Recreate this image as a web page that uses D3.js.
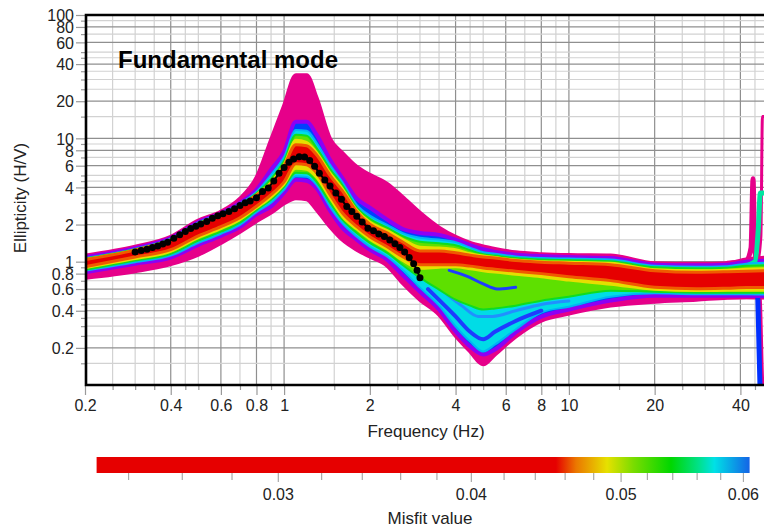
<!DOCTYPE html>
<html>
<head>
<meta charset="utf-8">
<script src="https://cdn.jsdelivr.net/npm/d3@7"></script>
<style>
  body { margin: 0; background: #fff; }
  svg { display: block; font-family: "Liberation Sans", Arial, Helvetica, sans-serif; }
</style>
</head>
<body>
<svg id="chart" width="764" height="529"></svg>
<script>
// frequency grid shared by the envelope curves (Hz)
const freq = [0.2, 0.3, 0.4, 0.5, 0.6, 0.7, 0.8, 0.9, 1.0, 1.1, 1.2, 1.3, 1.45, 1.6, 1.8, 2.0, 2.3, 2.6, 3.0, 3.5, 4.0, 4.5, 5.0, 5.5, 6.5, 8, 10, 14, 20, 28, 36, 42, 50];

// envelopes of the ellipticity curves, grouped by misfit colour (upper / lower)
const magentaUpper = [1.12, 1.32, 1.59, 2.15, 2.54, 3.24, 4.79, 9.72, 18.4, 32.5, 32.5, 21.3, 9.90, 7.63, 5.87, 5.06, 4.28, 3.36, 2.49, 1.89, 1.59, 1.42, 1.33, 1.27, 1.19, 1.15, 1.13, 1.12, 0.973, 0.963, 0.973, 1.04, 1.08];
const magentaLower = [0.74, 0.837, 0.955, 1.14, 1.42, 1.75, 2.13, 2.50, 2.97, 3.27, 3.21, 2.64, 1.92, 1.51, 1.25, 1.10, 0.929, 0.676, 0.492, 0.372, 0.251, 0.187, 0.147, 0.177, 0.247, 0.333, 0.379, 0.440, 0.474, 0.492, 0.510, 0.515, 0.510];
const blueUpper = [1.09, 1.285, 1.55, 2.09, 2.47, 3.00, 3.83, 5.56, 7.77, 13.6, 13.6, 10.7, 6.70, 4.79, 3.24, 2.74, 2.19, 1.85, 1.71, 1.65, 1.51, 1.36, 1.26, 1.20, 1.14, 1.11, 1.09, 1.07, 0.946, 0.937, 0.946, 1.00, 1.02];
const blueLower = [0.82, 0.963, 1.08, 1.37, 1.62, 1.92, 2.42, 2.81, 3.62, 4.61, 4.52, 3.94, 2.59, 1.89, 1.51, 1.25, 1.04, 0.785, 0.571, 0.409, 0.272, 0.205, 0.177, 0.194, 0.267, 0.358, 0.409, 0.483, 0.530, 0.530, 0.530, 0.530, 0.525];
const cyanUpper = [1.07, 1.27, 1.54, 2.07, 2.45, 2.95, 3.69, 5.06, 7.08, 11.7, 11.5, 9.20, 6.10, 4.44, 2.89, 2.36, 1.99, 1.71, 1.56, 1.51, 1.44, 1.30, 1.19, 1.16, 1.10, 1.07, 1.06, 1.04, 0.928, 0.911, 0.920, 0.963, 0.98];
const cyanLower = [0.845, 0.99, 1.12, 1.42, 1.68, 1.99, 2.52, 3.00, 3.83, 4.92, 4.87, 4.20, 2.78, 2.05, 1.59, 1.32, 1.10, 0.861, 0.616, 0.44, 0.298, 0.225, 0.187, 0.213, 0.282, 0.387, 0.431, 0.520, 0.555, 0.545, 0.545, 0.545, 0.540];
const greenUpper = [1.06, 1.26, 1.52, 2.05, 2.42, 2.89, 3.59, 4.70, 6.58, 10.7, 10.5, 8.38, 5.67, 4.20, 2.74, 2.23, 1.89, 1.62, 1.45, 1.41, 1.36, 1.24, 1.15, 1.12, 1.07, 1.04, 1.03, 1.01, 0.903, 0.885, 0.894, 0.928, 0.937];
const greenLower = [0.86, 1.02, 1.16, 1.48, 1.75, 2.07, 2.62, 3.18, 4.05, 5.25, 5.20, 4.44, 3.00, 2.19, 1.71, 1.42, 1.18, 0.946, 0.742, 0.593, 0.492, 0.440, 0.409, 0.417, 0.440, 0.483, 0.520, 0.582, 0.571, 0.560, 0.560, 0.560, 0.560];
const yellowUpper = [1.05, 1.25, 1.51, 2.03, 2.40, 2.86, 3.52, 4.44, 6.22, 9.72, 9.36, 7.77, 5.30, 3.97, 2.64, 2.11, 1.80, 1.54, 1.32, 1.30, 1.26, 1.17, 1.12, 1.09, 1.04, 1.01, 1.00, 0.98, 0.869, 0.853, 0.861, 0.877, 0.885];
const yellowLower = [0.885, 1.05, 1.20, 1.55, 1.84, 2.17, 2.71, 3.30, 4.20, 5.67, 5.56, 4.79, 3.24, 2.31, 1.82, 1.51, 1.25, 1.02, 0.877, 0.894, 0.902, 0.869, 0.837, 0.815, 0.785, 0.749, 0.702, 0.651, 0.593, 0.577, 0.582, 0.582, 0.582];
const redUpper = [1.04, 1.24, 1.50, 2.01, 2.38, 2.84, 3.46, 4.24, 5.99, 8.86, 8.70, 7.35, 5.01, 3.76, 2.54, 2.01, 1.71, 1.45, 1.22, 1.22, 1.18, 1.13, 1.09, 1.07, 1.02, 0.991, 0.973, 0.946, 0.845, 0.821, 0.829, 0.837, 0.845];
const redLower = [0.91, 1.09, 1.25, 1.62, 1.92, 2.27, 2.81, 3.49, 4.44, 6.22, 6.10, 5.25, 3.49, 2.49, 1.92, 1.59, 1.32, 1.10, 0.946, 0.946, 0.946, 0.920, 0.889, 0.869, 0.837, 0.800, 0.756, 0.702, 0.621, 0.604, 0.610, 0.616, 0.616];

// single curves at the right edge (high-frequency spikes) and streaks in the trough
const spikeMagAFreq = [36, 42, 43.6, 44.3, 44.9, 45.8, 50];
const spikeMagAEll = [0.97, 1.02, 1.3, 4.7, 1.3, 0.95, 0.95];
const spikeMagBFreq = [40, 46, 47.2, 47.8, 48.5];
const spikeMagBEll = [0.95, 1.0, 1.6, 15, 15];
const spikeMagCFreq = [40, 45.5, 46.8, 47.6, 48.5];
const spikeMagCEll = [0.95, 0.9, 0.5, 0.12, 0.05];
const spikeBlueFreq = [40, 45, 45.9, 46.5, 47.2];
const spikeBlueEll = [0.93, 0.85, 0.6, 0.2, 0.05];
const spikeCyanFreq = [40, 45, 46.2, 47, 50];
const spikeCyanEll = [0.9, 1.0, 1.8, 3.6, 3.6];
const streakBlueFreq = [3.8, 4.4, 5.0, 5.6, 6.5];
const streakBlueEll = [0.85, 0.76, 0.66, 0.60, 0.62];
const streakDeepFreq = [3.2, 4.0, 4.5, 5.0, 5.5, 6.5, 8];
const streakDeepEll = [0.60, 0.36, 0.27, 0.235, 0.27, 0.33, 0.40];
const streakMidFreq = [3.0, 3.6, 4.2, 4.8, 5.4, 6.5, 8, 10];
const streakMidEll = [0.80, 0.58, 0.44, 0.36, 0.36, 0.40, 0.45, 0.48];

// measured ellipticity (black dots)
const obsFreq = [0.30, 0.315, 0.33, 0.345, 0.36, 0.375, 0.39, 0.41, 0.43, 0.45, 0.47, 0.49, 0.51, 0.535, 0.56, 0.585, 0.61, 0.64, 0.67, 0.70, 0.73, 0.76, 0.80, 0.84, 0.88, 0.92, 0.96, 1.00, 1.04, 1.08, 1.13, 1.18, 1.23, 1.28, 1.33, 1.39, 1.45, 1.52, 1.59, 1.66, 1.73, 1.80, 1.88, 1.97, 2.06, 2.15, 2.25, 2.35, 2.45, 2.55, 2.65, 2.75, 2.85, 2.93, 3.0];
const obsEll = [1.20, 1.23, 1.26, 1.30, 1.34, 1.39, 1.44, 1.55, 1.65, 1.76, 1.86, 1.94, 2.02, 2.12, 2.25, 2.36, 2.45, 2.55, 2.68, 2.85, 3.0, 3.1, 3.3, 3.7, 3.95, 4.5, 5.2, 5.8, 6.4, 6.8, 7.1, 7.05, 6.6, 5.95, 5.2, 4.6, 4.1, 3.6, 3.2, 2.8, 2.55, 2.33, 2.1, 1.87, 1.78, 1.68, 1.6, 1.5, 1.40, 1.30, 1.20, 1.08, 0.96, 0.85, 0.74];

// axis labels
const xLabels = [0.2, 0.4, 0.6, 0.8, 1, 2, 4, 6, 8, 10, 20, 40];
const yLabels = [0.2, 0.4, 0.6, 0.8, 1, 2, 4, 6, 8, 10, 20, 40, 60, 80, 100];
const gridSteps = [1, 1.5, 2, 2.5, 3, 3.5, 4, 4.5, 5, 6, 7, 8, 9];

// misfit colour bar
const misfitLabels = [0.03, 0.04, 0.05, 0.06];
const barStopValues = [0.0229, 0.0454, 0.0468, 0.0490, 0.0510, 0.0539, 0.0562, 0.0575, 0.0606];
const barStopColors = ["#e60000", "#e60000", "#eb7800", "#e6e100", "#78dc00", "#00d700", "#00e18c", "#00e1e6", "#1464e6"];

const svg = d3.select("#chart");
const plotL = 86, plotT = 15, plotB = 385;

const x = d3.scaleLog().domain([0.2, 50]).range([85, 768]);
const y = d3.scaleLog().domain([0.1, 100]).range([plotB, plotT]);

const near = (a, b) => Math.abs(a - b) < 1e-6 * b;
const isIn = (list, v) => list.some(l => near(v, l));

function gridValues(lo, hi) {
    const out = [];
    [0.1, 1, 10, 100].forEach(dec => {
        gridSteps.forEach(k => {
            const v = +(k * dec).toPrecision(6);
            if (v >= lo - 1e-9 && v <= hi + 1e-9) out.push(v);
        });
    });
    return out;
}
const xGrid = gridValues(0.2, 50);
const yGrid = gridValues(0.15, 100);

svg.append("defs").append("clipPath").attr("id", "plotClip")
    .append("rect").attr("x", plotL).attr("y", plotT).attr("width", 764 - plotL + 10).attr("height", plotB - plotT);

// grid
const grid = svg.append("g").attr("clip-path", "url(#plotClip)");
grid.selectAll("line.vx").data(xGrid).enter().append("line")
    .attr("x1", d => x(d)).attr("x2", d => x(d))
    .attr("y1", plotT).attr("y2", plotB)
    .attr("stroke", d => isIn(xLabels, d) ? "#8f8f8f" : "#d2d2d2")
    .attr("stroke-width", 1.2);
grid.selectAll("line.hy").data(yGrid).enter().append("line")
    .attr("y1", d => y(d)).attr("y2", d => y(d))
    .attr("x1", plotL).attr("x2", 770)
    .attr("stroke", d => isIn(yLabels, d) ? "#8f8f8f" : "#d2d2d2")
    .attr("stroke-width", 1.2);

// envelope layers, worst misfit first so the best fits end on top
const layers = [
    { upper: magentaUpper, lower: magentaLower, fill: "#e6008a", edge: "#e6008a", w: 4 },
    { upper: blueUpper, lower: blueLower, fill: "#0040ff", edge: "#8c00f5", w: 4 },
    { upper: cyanUpper, lower: cyanLower, fill: "#00dce6", edge: "#00b4f5", w: 2 },
    { upper: greenUpper, lower: greenLower, fill: "#5ee000", edge: "#10dc20", w: 2 },
    { upper: yellowUpper, lower: yellowLower, fill: "#e6df00", edge: "#e6df00", w: 2 },
    { upper: redUpper, lower: redLower, fill: "#e60000", edge: "#f05a00", w: 3 }
];

const area = d3.area()
    .x(d => x(d.f))
    .y0(d => y(d.lo))
    .y1(d => y(d.hi))
    .curve(d3.curveMonotoneX);

const line = d3.line()
    .x(d => x(d.f))
    .y(d => y(d.v))
    .curve(d3.curveMonotoneX);

const curves = svg.append("g").attr("clip-path", "url(#plotClip)");

function drawSingle(fs, vs, color, w) {
    curves.append("path")
        .datum(fs.map((f, i) => ({ f: f, v: vs[i] })))
        .attr("d", line)
        .attr("fill", "none")
        .attr("stroke", color)
        .attr("stroke-width", w)
        .attr("stroke-linejoin", "round")
        .attr("stroke-linecap", "round");
}

layers.forEach((layer, li) => {
    if (li === 0) {
        drawSingle(spikeMagAFreq, spikeMagAEll, "#e6008a", 5);
        drawSingle(spikeMagBFreq, spikeMagBEll, "#e6008a", 3);
        drawSingle(spikeMagCFreq, spikeMagCEll, "#e6008a", 4);
    }
    if (li === 1) drawSingle(spikeBlueFreq, spikeBlueEll, "#0030ff", 5);
    if (li === 2) drawSingle(spikeCyanFreq, spikeCyanEll, "#00e6a0", 5);
    const pts = freq.map((f, i) => ({ f: f, hi: layer.upper[i], lo: layer.lower[i] }));
    curves.append("path")
        .datum(pts)
        .attr("d", area)
        .attr("fill", layer.fill)
        .attr("stroke", layer.edge)
        .attr("stroke-width", layer.w)
        .attr("stroke-linejoin", "round");
    if (li === 2) {
        drawSingle(streakDeepFreq, streakDeepEll, "#1e3cff", 4);
        drawSingle(streakMidFreq, streakMidEll, "#2090ff", 3);
    }
    if (li === 3) drawSingle(streakBlueFreq, streakBlueEll, "#1e3cff", 3);
});

// measured curve
const obs = obsFreq.map((f, i) => ({ f: f, v: obsEll[i] }));
svg.append("path")
    .datum(obs)
    .attr("d", d3.line().x(d => x(d.f)).y(d => y(d.v)))
    .attr("fill", "none")
    .attr("stroke", "#000")
    .attr("stroke-width", 2);
svg.append("g").selectAll("circle").data(obs).enter().append("circle")
    .attr("cx", d => x(d.f))
    .attr("cy", d => y(d.v))
    .attr("r", 3.5)
    .attr("fill", "#000");

// axes
const xAxis = d3.axisBottom(x).tickValues(xGrid)
    .tickFormat(d => isIn(xLabels, d) ? String(d) : "");
const gx = svg.append("g").attr("transform", `translate(0,${plotB})`).call(xAxis);
gx.select(".domain").remove();
gx.selectAll(".tick line").attr("stroke", "#9a9a9a").attr("stroke-width", 1.2)
    .attr("y2", d => isIn(xLabels, d) ? 10 : 5);
gx.selectAll(".tick text").attr("y", 26).attr("dy", null)
    .attr("font-size", 16).attr("fill", "#222").attr("font-family", "Liberation Sans, Arial, sans-serif");

const yAxis = d3.axisLeft(y).tickValues(yGrid)
    .tickFormat(d => isIn(yLabels, d) ? String(d) : "");
const gy = svg.append("g").attr("transform", `translate(${plotL},0)`).call(yAxis);
gy.select(".domain").remove();
gy.selectAll(".tick line").attr("stroke", "#9a9a9a").attr("stroke-width", 1.2)
    .attr("x2", d => isIn(yLabels, d) ? -10 : -5);
gy.selectAll(".tick text").attr("x", -12).attr("dy", "0.36em")
    .attr("font-size", 16).attr("fill", "#222").attr("font-family", "Liberation Sans, Arial, sans-serif");

// frame
svg.append("path")
    .attr("d", `M800,${plotT}H${plotL}V${plotB}H800`)
    .attr("fill", "none")
    .attr("stroke", "#000")
    .attr("stroke-width", 2.6);

// titles
svg.append("text")
    .attr("x", 118).attr("y", 68)
    .attr("font-size", 24).attr("font-weight", "bold").attr("fill", "#000")
    .text("Fundamental mode");
svg.append("text")
    .attr("x", 426).attr("y", 437)
    .attr("text-anchor", "middle").attr("font-size", 17).attr("fill", "#222")
    .text("Frequency (Hz)");
svg.append("text")
    .attr("transform", "translate(26,198) rotate(-90)")
    .attr("text-anchor", "middle").attr("font-size", 17).attr("fill", "#222")
    .text("Ellipticity (H/V)");

// colour bar
const barL = 96.6, barR = 749.6, barT = 457, barH = 16;
const c = d3.scaleLog().domain([0.0229, 0.0606]).range([barL, barR]);

const grad = svg.select("defs").append("linearGradient").attr("id", "misfitGrad")
    .attr("x1", "0%").attr("x2", "100%").attr("y1", "0%").attr("y2", "0%");
barStopValues.forEach((v, i) => {
    grad.append("stop")
        .attr("offset", ((c(v) - barL) / (barR - barL) * 100).toFixed(2) + "%")
        .attr("stop-color", barStopColors[i]);
});
svg.append("rect")
    .attr("x", barL).attr("y", barT).attr("width", barR - barL).attr("height", barH)
    .attr("fill", "url(#misfitGrad)");

const barTicks = d3.range(12, 31).map(i => +(i * 0.002).toFixed(3));
const cAxis = d3.axisBottom(c).tickValues(barTicks)
    .tickFormat(d => isIn(misfitLabels, d) ? String(d) : "");
const gc = svg.append("g").attr("transform", `translate(0,${barT + barH})`).call(cAxis);
gc.select(".domain").remove();
gc.selectAll(".tick line").attr("stroke", "#aaa").attr("stroke-width", 1.2)
    .attr("y2", d => isIn(misfitLabels, d) ? 9 : 7);
gc.selectAll(".tick text").attr("y", 27).attr("dy", null)
    .attr("font-size", 16).attr("fill", "#222").attr("font-family", "Liberation Sans, Arial, sans-serif");

svg.append("text")
    .attr("x", 430).attr("y", 524)
    .attr("text-anchor", "middle").attr("font-size", 17).attr("fill", "#222")
    .text("Misfit value");
</script>
</body>
</html>
